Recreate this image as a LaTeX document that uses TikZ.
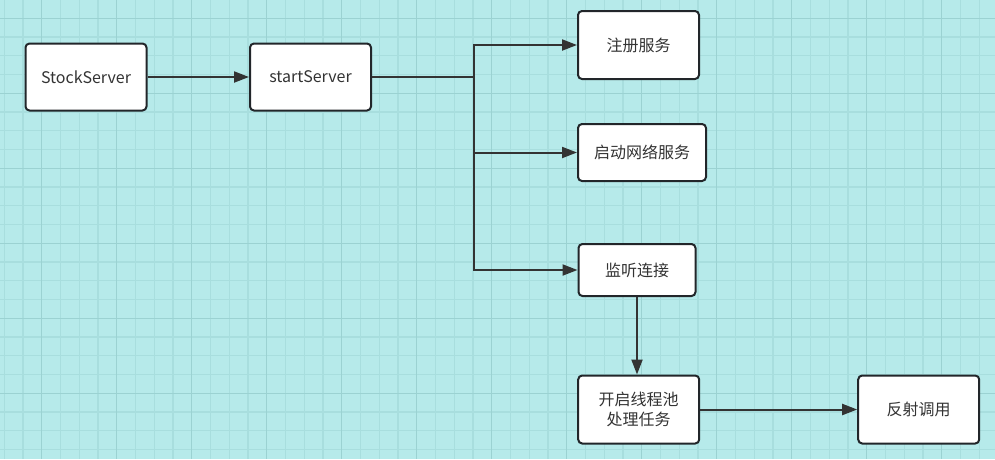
\documentclass[tikz,border=0pt]{standalone}
\usepackage{fontspec}
\setmainfont{Noto Sans CJK SC}
\usetikzlibrary{arrows.meta,calc}
\definecolor{bgc}{RGB}{182,234,234}
\definecolor{gridminor}{RGB}{168,222,222}
\definecolor{gridmajor}{RGB}{155,210,210}
\definecolor{edgec}{RGB}{51,51,51}
\definecolor{boxline}{RGB}{34,38,42}
\definecolor{txt}{RGB}{51,51,51}
\tikzset{
  boxnode/.style={draw=boxline, fill=white, line width=2pt, rounded corners=4pt,
    inner sep=0pt, align=center, text=txt, font=\fontsize{16}{20}\selectfont},
  conn/.style={draw=edgec, line width=2pt, -{Triangle[length=15pt,width=11pt]}},
  plainconn/.style={draw=edgec, line width=2pt},
}
\begin{document}
\begin{tikzpicture}[x=1pt,y=-1pt]
\useasboundingbox (0,0) rectangle (995,459);
\fill[bgc] (0,0) rectangle (995,459);
% minor grid
\foreach \k in {0,...,53} {
  \pgfmathsetmacro{\xx}{4.2+18.75*\k}
  \draw[gridminor, line width=1.2pt] (\xx,0) -- (\xx,459);
}
\foreach \k in {0,...,25} {
  \pgfmathsetmacro{\yy}{-0.45+18.75*\k}
  \draw[gridminor, line width=1.2pt] (0,\yy) -- (995,\yy);
}
% major grid
\foreach \k in {0,...,13} {
  \pgfmathsetmacro{\xx}{41.7+75*\k}
  \draw[gridmajor, line width=1.4pt] (\xx,0) -- (\xx,459);
}
\foreach \k in {0,...,6} {
  \pgfmathsetmacro{\yy}{18.3+75*\k}
  \draw[gridmajor, line width=1.4pt] (0,\yy) -- (995,\yy);
}
% nodes
\node[boxnode, minimum width=121pt, minimum height=67pt] (stock) at (86,77) {StockServer};
\node[boxnode, minimum width=121pt, minimum height=67pt] (start) at (310.5,77) {startServer};
\node[boxnode, minimum width=121pt, minimum height=68pt] (reg) at (638.5,45) {注册服务};
\node[boxnode, minimum width=128pt, minimum height=57pt] (net) at (642,152.5) {启动网络服务};
\node[boxnode, minimum width=117pt, minimum height=52pt] (listen) at (637,270) {监听连接};
\node[boxnode, minimum width=121pt, minimum height=68pt] (pool) at (638.7,409.5) {开启线程池\\处理任务};
\node[boxnode, minimum width=121pt, minimum height=68pt] (refl) at (918.7,409.5) {反射调用};
\coordinate (junc) at (474,77);
% connectors
\draw[conn] (stock.east) -- (start.west);
\draw[plainconn] (start.east) -- (junc);
\draw[conn] (junc) |- (reg.west);
\draw[conn] (junc) |- (net.west);
\draw[conn] (junc) |- (listen.west);
\draw[conn] (listen.south) -- (listen.south |- pool.north);
\draw[conn] (pool.east) -- (refl.west);
\end{tikzpicture}
\end{document}
